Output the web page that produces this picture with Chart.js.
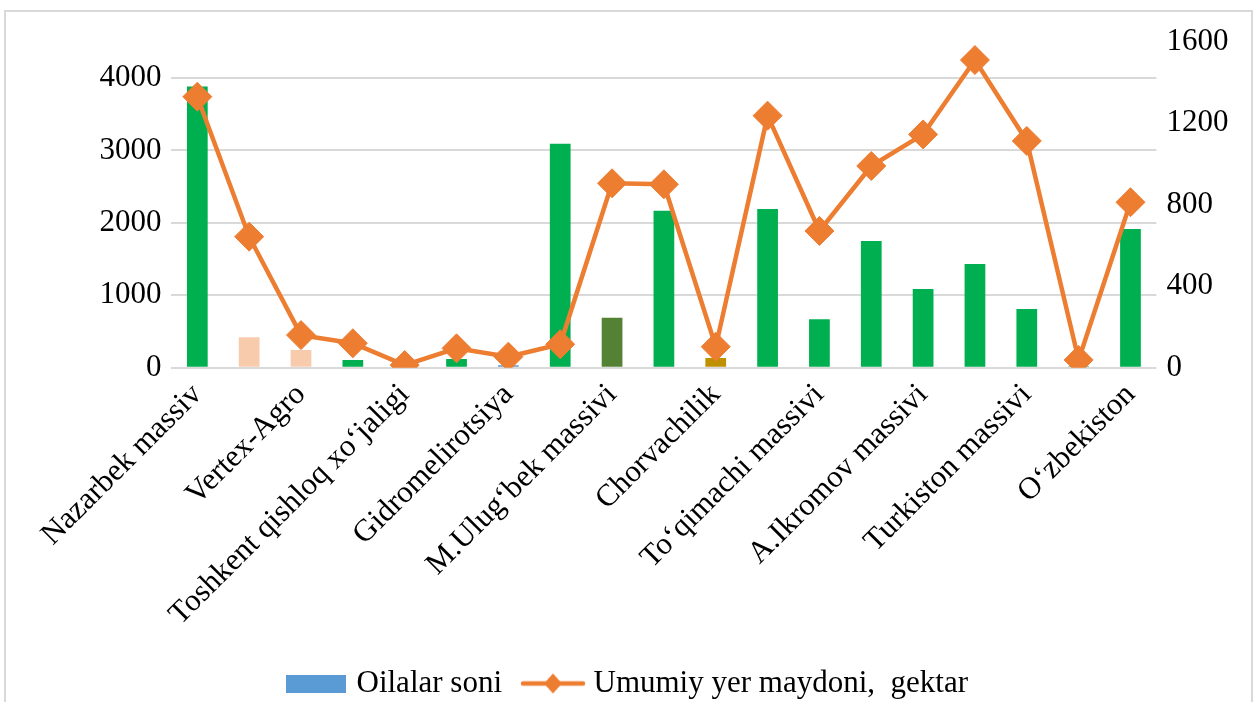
<!DOCTYPE html>
<html>
<head>
<meta charset="utf-8">
<script src="https://cdn.jsdelivr.net/npm/chart.js@4/dist/chart.umd.min.js"></script>
<style>
  html, body { margin: 0; padding: 0; background: #fff; }
  #wrap { width: 1259px; height: 702px; position: relative; }
</style>
</head>
<body>
<div id="wrap"><canvas id="c" width="1259" height="702"></canvas></div>
<script>
// Categories (odd-position names are not printed on the reference axis)
const categories = [
  'Nazarbek massiv', '', 'Vertex-Agro', '', 'Toshkent qishloq xo‘jaligi', '',
  'Gidromelirotsiya', '', 'M.Ulug‘bek massivi', '', 'Chorvachilik', '',
  'To‘qimachi massivi', '', 'A.Ikromov massivi', '', 'Turkiston massivi', '',
  'O‘zbekiston'
];
// Oilalar soni (left axis)
const familyCounts = [3880, 420, 245, 105, 20, 120, 35, 3090, 690, 2165, 135, 2190, 670, 1750, 1085, 1430, 810, 20, 1915];
// Umumiy yer maydoni, gektar (right axis)
const landArea = [1330, 643, 160, 120, 13, 95, 54, 115, 905, 900, 103, 1237, 671, 990, 1145, 1510, 1113, 38, 812];
// Bar colours per category
const barColors = [
  '#00B050', '#F8CBAD', '#F8CBAD', '#00B050', '#00B050', '#00B050', '#5B9BD5',
  '#00B050', '#548235', '#00B050', '#BF9000', '#00B050', '#00B050', '#00B050',
  '#00B050', '#00B050', '#00B050', '#00B050', '#00B050'
];
const seriesNames = ['Oilalar soni', 'Umumiy yer maydoni,  gektar'];
const leftTicks = [0, 1000, 2000, 3000, 4000];
const rightTicks = [0, 400, 800, 1200, 1600];

const FONT = { family: '"Liberation Serif", "Times New Roman", serif', size: 31 };
const ORANGE = '#ED7D31';
const BLUE = '#5B9BD5';
const GRID = '#D9D9D9';

// legend swatches
function makeBarSwatch() {
  const c = document.createElement('canvas');
  c.width = 60; c.height = 18;
  const x = c.getContext('2d');
  x.fillStyle = BLUE; x.fillRect(0, 0, 60, 18);
  return c;
}
function makeLineSwatch() {
  const c = document.createElement('canvas');
  c.width = 66; c.height = 24;
  const x = c.getContext('2d');
  x.strokeStyle = ORANGE; x.lineWidth = 4.5; x.lineCap = 'round';
  x.beginPath(); x.moveTo(3, 12); x.lineTo(63, 12); x.stroke();
  x.fillStyle = ORANGE;
  x.beginPath(); x.moveTo(33, 2); x.lineTo(42, 12); x.lineTo(33, 22); x.lineTo(24, 12); x.closePath(); x.fill();
  return c;
}
const barSwatch = makeBarSwatch();
const lineSwatch = makeLineSwatch();

const borderPlugin = {
  id: 'outerBorder',
  beforeDraw(chart) {
    const ctx = chart.ctx;
    ctx.save();
    ctx.strokeStyle = GRID;
    ctx.lineWidth = 2;
    ctx.beginPath();
    ctx.moveTo(5, 702); ctx.lineTo(5, 11); ctx.lineTo(1252, 11); ctx.lineTo(1252, 702);
    ctx.stroke();
    ctx.restore();
  }
};

new Chart(document.getElementById('c'), {
  data: {
    labels: categories,
    datasets: [
      {
        type: 'bar',
        label: seriesNames[0],
        data: familyCounts,
        backgroundColor: barColors,
        yAxisID: 'y',
        order: 1,
        categoryPercentage: 1.0,
        barPercentage: 0.4
      },
      {
        type: 'line',
        label: seriesNames[1],
        data: landArea,
        yAxisID: 'y1',
        order: 0,
        borderColor: ORANGE,
        backgroundColor: ORANGE,
        borderWidth: 4.5,
        tension: 0,
        pointStyle: 'rectRot',
        pointRadius: 14.5,
        pointBorderWidth: 1,
        pointBackgroundColor: ORANGE,
        pointBorderColor: ORANGE
      }
    ]
  },
  options: {
    responsive: false,
    animation: false,
    events: [],
    layout: { padding: { left: 0, right: 0, top: 41.7, bottom: -7 } },
    plugins: {
      tooltip: { enabled: false },
      legend: {
        position: 'bottom',
        labels: {
          font: FONT,
          color: '#000',
          usePointStyle: true,
          pointStyleWidth: 50,
          padding: 26,
          generateLabels() {
            return [
              { text: seriesNames[0], pointStyle: barSwatch, datasetIndex: 0, fillStyle: BLUE, strokeStyle: BLUE, lineWidth: 0, hidden: false, fontColor: '#000' },
              { text: seriesNames[1], pointStyle: lineSwatch, datasetIndex: 1, fillStyle: ORANGE, strokeStyle: ORANGE, lineWidth: 0, hidden: false, fontColor: '#000' }
            ];
          }
        }
      }
    },
    scales: {
      x: {
        type: 'category',
        grid: { display: false, drawTicks: false },
        border: { display: false },
        ticks: {
          autoSkip: false,
          minRotation: 45,
          maxRotation: 45,
          padding: 9,
          color: '#000',
          font: FONT
        },
        afterFit(scale) { scale.height = 274.3; }
      },
      y: {
        position: 'left',
        min: 0,
        max: 4500,
        grid: { color: GRID, lineWidth: 2, drawTicks: false },
        border: { display: false },
        ticks: {
          stepSize: 500,
          padding: 10,
          color: '#000',
          font: FONT,
          callback: (v) => leftTicks.includes(v) ? String(v) : ''
        },
        afterFit(scale) { scale.width = 171.4; }
      },
      y1: {
        position: 'right',
        min: 0,
        max: 1600,
        grid: { display: false, drawTicks: false },
        border: { display: false },
        ticks: {
          stepSize: 400,
          padding: 10,
          color: '#000',
          font: FONT,
          callback: (v) => rightTicks.includes(v) ? String(v) : ''
        },
        afterFit(scale) { scale.width = 102.6; }
      }
    }
  },
  plugins: [borderPlugin]
});
</script>
</body>
</html>
